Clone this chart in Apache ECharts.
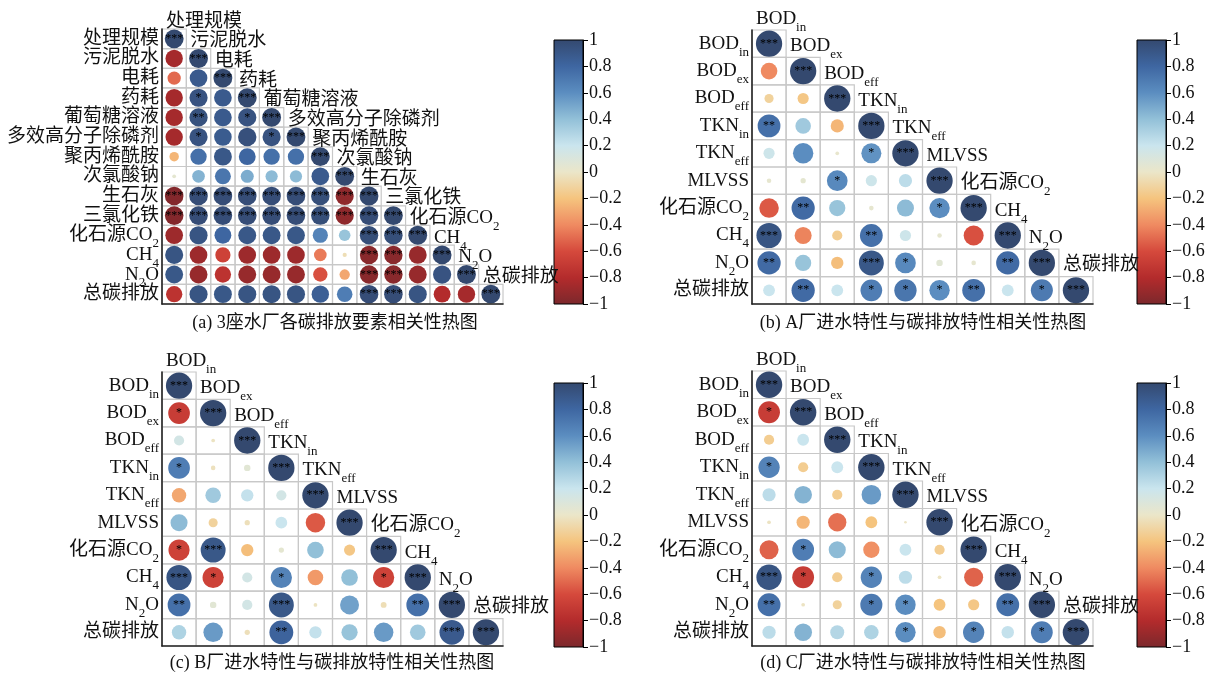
<!DOCTYPE html>
<html><head><meta charset="utf-8">
<script src="https://cdn.jsdelivr.net/npm/echarts@6/dist/echarts.min.js"></script>
<style>html,body{margin:0;padding:0;background:#fff}#c{width:1224px;height:675px}</style>
</head><body><div id="c"></div>
<script>
// ---------------- DATA ----------------
const labelsA = ['处理规模','污泥脱水','电耗','药耗','葡萄糖溶液','多效高分子除磷剂','聚丙烯酰胺','次氯酸钠','生石灰','三氯化铁','化石源CO~2~','CH~4~','N~2~O','总碳排放'];
const labelsBCD = ['BOD~in~','BOD~ex~','BOD~eff~','TKN~in~','TKN~eff~','MLVSS','化石源CO~2~','CH~4~','N~2~O','总碳排放'];

// lower-triangle correlation values (row i holds columns 0..i)
const corrA = [
  [1],
  [-0.85, 1],
  [-0.5, 0.88, 1],
  [-0.85, 0.93, 0.88, 1],
  [-0.85, 0.94, 0.88, 0.93, 1],
  [-0.85, 0.93, 0.87, 0.95, 0.93, 1],
  [-0.25, 0.75, 0.9, 0.8, 0.75, 0.75, 1],
  [0.04, 0.45, 0.72, 0.48, 0.42, 0.42, 0.88, 1],
  [-0.97, 0.97, 0.97, 0.97, 0.97, 0.97, 0.96, -0.93, 1],
  [-0.97, 0.97, 0.97, 0.97, 0.97, 0.97, 0.96, -0.93, 0.97, 1],
  [-0.88, 0.92, 0.8, 0.9, 0.9, 0.9, 0.65, 0.38, 0.96, 0.96, 1],
  [0.92, -0.88, -0.65, -0.88, -0.88, -0.88, -0.45, -0.05, -0.95, -0.95, -0.9, 1],
  [0.9, -0.9, -0.75, -0.9, -0.9, -0.9, -0.58, -0.3, -0.95, -0.95, -0.9, 0.93, 1],
  [-0.75, 0.92, 0.9, 0.92, 0.92, 0.92, 0.85, 0.68, 0.97, 0.97, 0.92, -0.8, -0.85, 1]
];
const sigA = [
  [3],[0,3],[0,0,3],[0,1,0,3],[0,2,0,1,3],[0,1,0,0,1,3],[0,0,0,0,0,0,3],[0,0,0,0,0,0,0,3],
  [3,3,3,3,3,3,3,3,3],[3,3,3,3,3,3,3,3,3,3],[0,0,0,0,0,0,0,0,3,3,3],
  [0,0,0,0,0,0,0,0,3,3,0,3],[0,0,0,0,0,0,0,0,3,3,0,0,3],[0,0,0,0,0,0,0,0,3,3,0,0,0,3]
];

const corrB = [
  [1],
  [-0.4, 1],
  [-0.12, -0.18, 1],
  [0.75, 0.35, -0.25, 1],
  [0.18, 0.6, 0.02, 0.58, 1],
  [0.03, 0.04, 0.62, 0.18, 0.25, 1],
  [-0.55, 0.78, 0.38, 0.03, 0.42, 0.6, 1],
  [0.92, -0.42, -0.15, 0.75, 0.18, 0.03, -0.58, 1],
  [0.78, 0.38, -0.22, 0.9, 0.62, 0.06, 0.03, 0.78, 1],
  [0.2, 0.78, 0.2, 0.68, 0.72, 0.6, 0.75, 0.2, 0.7, 1]
];
const sigB = [
  [3],[0,3],[0,0,3],[2,0,0,3],[0,0,0,1,3],[0,0,1,0,0,3],[0,2,0,0,0,1,3],
  [3,0,0,2,0,0,0,3],[2,0,0,3,1,0,0,2,3],[0,2,0,1,1,1,2,0,1,3]
];

const corrC = [
  [1],
  [-0.68, 1],
  [0.15, -0.02, 1],
  [0.68, -0.03, 0.06, 1],
  [-0.3, 0.35, 0.22, 0.15, 1],
  [0.42, -0.12, -0.04, 0.2, -0.55, 1],
  [-0.65, 0.9, -0.22, 0.04, 0.4, -0.18, 1],
  [0.92, -0.65, 0.15, 0.65, -0.35, 0.4, -0.65, 1],
  [0.75, 0.06, 0.15, 0.9, -0.02, 0.52, -0.05, 0.75, 1],
  [0.3, 0.55, -0.04, 0.82, 0.22, 0.38, 0.55, 0.35, 0.88, 1]
];
const sigC = [
  [3],[1,3],[0,0,3],[1,0,0,3],[0,0,0,0,3],[0,0,0,0,0,3],[1,3,0,0,0,0,3],
  [3,1,0,1,0,0,1,3],[2,0,0,3,0,0,0,2,3],[0,0,0,2,0,0,0,0,3,3]
];

const corrD = [
  [1],
  [-0.68, 1],
  [-0.15, 0.2, 1],
  [0.65, -0.15, 0.2, 1],
  [0.25, 0.45, -0.15, 0.55, 1],
  [-0.02, -0.25, -0.48, -0.2, -0.01, 1],
  [-0.52, 0.68, 0.42, -0.38, 0.2, -0.15, 1],
  [0.92, -0.68, -0.15, 0.65, 0.25, -0.02, -0.52, 1],
  [0.75, -0.02, -0.12, 0.7, 0.6, -0.2, -0.18, 0.75, 1],
  [0.25, 0.45, 0.28, 0.3, 0.6, -0.22, 0.65, 0.22, 0.68, 1]
];
const sigD = [
  [3],[1,3],[0,0,3],[1,0,0,3],[0,0,0,0,3],[0,0,0,0,0,3],[0,1,0,0,0,0,3],
  [3,1,0,1,0,0,0,3],[2,0,0,1,1,0,0,2,3],[0,0,0,0,1,0,1,0,1,3]
];

const captions = ['(a) 3座水厂各碳排放要素相关性热图','(b) A厂进水特性与碳排放特性相关性热图','(c) B厂进水特性与碳排放特性相关性热图','(d) C厂进水特性与碳排放特性相关性热图'];
const colorbarRange = [-1, 1];
const cmapColors = ['#7b282c','#b32b2c','#d5493c','#ef8a61','#f5c47e','#ebe6c9','#cae5ee','#92c0d8','#5b8dc0','#3e66a1','#34496f'];

// ---------------- LAYOUT ----------------
const FONT = "'Liberation Serif','Noto Sans CJK SC',serif";
const layouts = [
  {grid:{left:162, top:29, width:341, height:275}, cbar:{left:554, top:40, width:29, height:264}, cap:[335, 314]},
  {grid:{left:752, top:30, width:341, height:274}, cbar:{left:1137, top:40, width:29, height:264}, cap:[923, 314]},
  {grid:{left:162, top:372, width:341, height:274}, cbar:{left:554, top:383, width:29, height:264}, cap:[332, 654]},
  {grid:{left:752, top:371, width:341, height:275}, cbar:{left:1137, top:383, width:29, height:264}, cap:[923, 654]}
];
const panelData = [
  {labels:labelsA, corr:corrA, sig:sigA},
  {labels:labelsBCD, corr:corrB, sig:sigB},
  {labels:labelsBCD, corr:corrC, sig:sigC},
  {labels:labelsBCD, corr:corrD, sig:sigD}
];

function toRich(s){
  const parts = s.split('~');
  let out = '';
  parts.forEach((p,i)=>{ if(p) out += (i%2===0? '{n|':'{s|') + p + '}'; });
  return out;
}
const richStyle = {
  n:{fontSize:19, lineHeight:30, fontFamily:FONT, color:'#111'},
  s:{fontSize:13, lineHeight:12, verticalAlign:'bottom', fontFamily:FONT, color:'#111'}
};
function fmtTick(v){
  const r = +v.toFixed(1);
  return (r<0?'\u2212':'') + Math.abs(r);
}

const grids=[], xAxes=[], yAxes=[], series=[], titles=[], circleIdx=[];
panelData.forEach((pd,k)=>{
  const L = layouts[k];
  const n = pd.labels.length;
  const cw = L.grid.width/n, ch = L.grid.height/n;
  const maxD = Math.min(cw,ch)*0.96;
  const gi = grids.length;
  grids.push(Object.assign({}, L.grid));
  grids.push(Object.assign({}, L.cbar));
  const idx = [...Array(n).keys()].map(String);
  xAxes.push({type:'category', gridIndex:gi, data:idx, z:5,
    axisLine:{show:true, lineStyle:{color:'#222', width:1.6}}, axisTick:{show:false}, axisLabel:{show:false}, splitLine:{show:false}});
  yAxes.push({type:'category', gridIndex:gi, data:pd.labels, inverse:true, z:5,
    axisLine:{show:true, lineStyle:{color:'#222', width:1.6}}, axisTick:{show:false}, splitLine:{show:false},
    axisLabel:{margin:3, interval:0, hideOverlap:false, formatter:v=>toRich(v), rich:richStyle}});
  xAxes.push({type:'category', gridIndex:gi+1, data:[''], show:false});
  yAxes.push({type:'value', gridIndex:gi+1, position:'right', min:colorbarRange[0], max:colorbarRange[1], interval:0.2,
    axisLine:{show:true, lineStyle:{color:'#000', width:1}}, axisTick:{show:true, inside:false, length:5, lineStyle:{color:'#000'}},
    splitLine:{show:false}, axisLabel:{margin:6, fontSize:18, fontFamily:FONT, color:'#111', formatter:fmtTick}});
  const xa = xAxes.length-2, ya = yAxes.length-2;
  const cells=[], pts=[], diag=[];
  pd.corr.forEach((row,i)=>row.forEach((v,j)=>{
    cells.push([j,i]);
    const st = pd.sig[i][j];
    pts.push([j,i,v, st? '*'.repeat(st):'']);
  }));
  pd.labels.forEach((lab,j)=>diag.push([j,j,lab]));
  // cell outlines (lower triangle)
  series.push({type:'custom', xAxisIndex:xa, yAxisIndex:ya, z:1, silent:true, data:cells,
    renderItem:(params,api)=>{
      const c = api.coord([api.value(0), api.value(1)]);
      const s = api.size([1,1]);
      return {type:'rect', shape:{x:c[0]-s[0]/2, y:c[1]-s[1]/2, width:s[0], height:s[1]},
        style:{fill:'none', stroke:'#c8c8c8', lineWidth:1.2}};
    }});
  circleIdx.push(series.length);
  series.push({type:'scatter', xAxisIndex:xa, yAxisIndex:ya, z:3, silent:true, data:pts,
    symbol:'circle', symbolSize:v=>maxD*Math.sqrt(Math.abs(v[2])),
    itemStyle:{opacity:1},
    label:{show:true, position:'inside', formatter:p=>p.value[3], fontSize:12, fontFamily:"'Liberation Serif'", color:'#000'}});
  series.push({type:'scatter', xAxisIndex:xa, yAxisIndex:ya, z:4, silent:true, data:diag, symbolSize:1,
    itemStyle:{color:'rgba(0,0,0,0)', opacity:1},
    label:{show:true, position:'inside', align:'left', verticalAlign:'middle', offset:[-cw/2+4, -ch+2.5],
      formatter:p=>toRich(p.value[2]), rich:richStyle}});
  // colorbar
  series.push({type:'custom', xAxisIndex:xa+1, yAxisIndex:ya+1, silent:true, data:[[0, colorbarRange[1]]],
    renderItem:(params,api)=>{
      const t = api.coord([0, colorbarRange[1]]);
      const b = api.coord([0, colorbarRange[0]]);
      const w = api.size([1,0])[0];
      const stops = cmapColors.map((c,i)=>({offset:1-i/(cmapColors.length-1), color:c})).reverse();
      return {type:'rect', shape:{x:t[0]-w/2, y:t[1], width:w, height:b[1]-t[1]},
        style:{fill:new echarts.graphic.LinearGradient(0,0,0,1,stops), stroke:'#000', lineWidth:1}};
    }});
  titles.push({text:captions[k], left:L.cap[0], top:L.cap[1], textAlign:'center', padding:0,
    textStyle:{fontSize:18, fontWeight:'normal', fontFamily:FONT, color:'#111'}});
});

const chart = echarts.init(document.getElementById('c'), null, {renderer:'canvas'});
chart.setOption({
  backgroundColor:'#fff',
  animation:false,
  title:titles,
  grid:grids, xAxis:xAxes, yAxis:yAxes,
  visualMap:[{type:'continuous', show:false, min:colorbarRange[0], max:colorbarRange[1], dimension:2, seriesIndex:circleIdx,
    inRange:{color:cmapColors}}],
  series:series
});
</script></body></html>
